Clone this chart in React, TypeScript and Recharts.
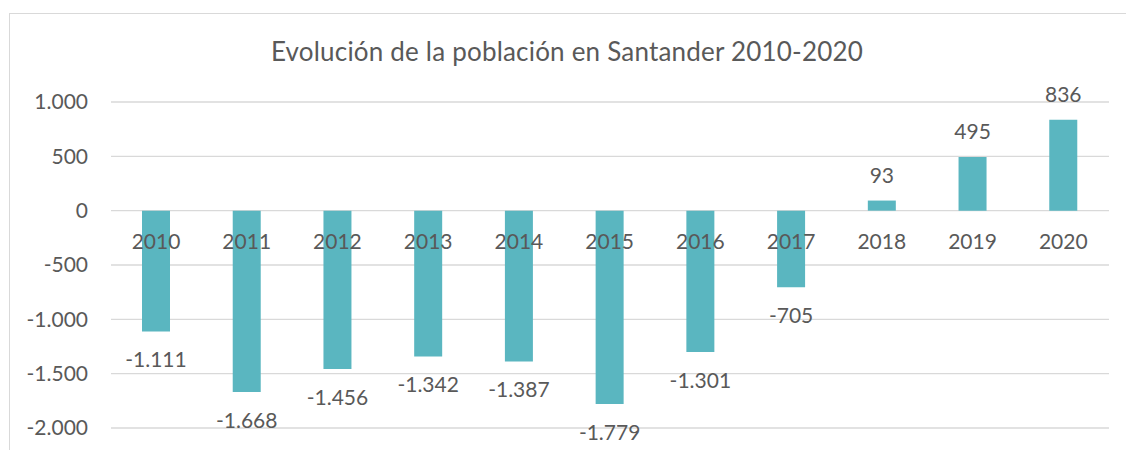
import React from 'react';
import { BarChart, Bar, XAxis, YAxis, CartesianGrid, LabelList } from 'recharts';

const years = ['2010', '2011', '2012', '2013', '2014', '2015', '2016', '2017', '2018', '2019', '2020'];
const changes = [-1111, -1668, -1456, -1342, -1387, -1779, -1301, -705, 93, 495, 836];
const yTicks = [-2000, -1500, -1000, -500, 0, 500, 1000];
const title = 'Evolución de la población en Santander 2010-2020';

const data = years.map((year, i) => ({ year, value: changes[i] }));

const FONT = 'Lato, "Open Sans", sans-serif';
const TEXT = '#595959';
const FS = 21;

const fmt = (n: number) => {
  const s = Math.abs(n).toString().replace(/\B(?=(\d{3})+(?!\d))/g, '.');
  return n < 0 ? '-' + s : s;
};

const geom = (props: any) => {
  const vb = props.viewBox || props;
  const x = Number(vb.x);
  const y = Number(vb.y);
  const w = Number(vb.width);
  const h = Number(vb.height);
  const top = Math.min(y, y + h);
  const bottom = Math.max(y, y + h);
  const v = changes[props.index];
  return { cx: x + w / 2, top, bottom, v };
};

const CategoryLabel = (props: any) => {
  const { cx, top, bottom, v } = geom(props);
  const zero = v >= 0 ? bottom : top;
  return (
    <text x={cx} y={zero + 38.5} textAnchor="middle" fill={TEXT} fontSize={FS} fontFamily={FONT}>
      {years[props.index]}
    </text>
  );
};

const ValueLabel = (props: any) => {
  const { cx, top, bottom, v } = geom(props);
  const y = v >= 0 ? top - 18 : bottom + 36;
  return (
    <text x={cx} y={y} textAnchor="middle" fill={TEXT} fontSize={FS} fontFamily={FONT}>
      {fmt(v)}
    </text>
  );
};

export default function App() {
  return (
    <div style={{ position: 'absolute', left: 0, top: 0, width: 1126, height: 450, overflow: 'hidden', background: '#fff' }}>
      <div
        style={{
          position: 'absolute',
          left: 9,
          top: 13,
          width: 1125,
          height: 460,
          border: '1px solid #d9d9d9',
          boxSizing: 'border-box',
        }}
      />
      <div style={{ position: 'absolute', left: 0, top: 0 }}>
        <BarChart width={1126} height={450} data={data} margin={{ top: 102, right: 17, bottom: 22, left: 0 }}>
          <text x={567} y={61} textAnchor="middle" fill={TEXT} fontSize={26} letterSpacing={0.2} fontFamily={FONT}>
            {title}
          </text>
          <CartesianGrid vertical={false} stroke="#d9d9d9" strokeWidth={1.3} />
          <XAxis dataKey="year" hide />
          <YAxis
            width={111}
            domain={[-2000, 1000]}
            ticks={yTicks}
            interval={0}
            axisLine={false}
            tickLine={false}
            tickSize={0}
            tickMargin={23}
            tickFormatter={fmt}
            tick={{ fill: TEXT, fontSize: FS, fontFamily: FONT }}
          />
          <Bar dataKey="value" fill="#5ab6c0" barSize={28} isAnimationActive={false}>
            <LabelList dataKey="year" content={CategoryLabel} />
            <LabelList dataKey="value" content={ValueLabel} />
          </Bar>
        </BarChart>
      </div>
    </div>
  );
}
